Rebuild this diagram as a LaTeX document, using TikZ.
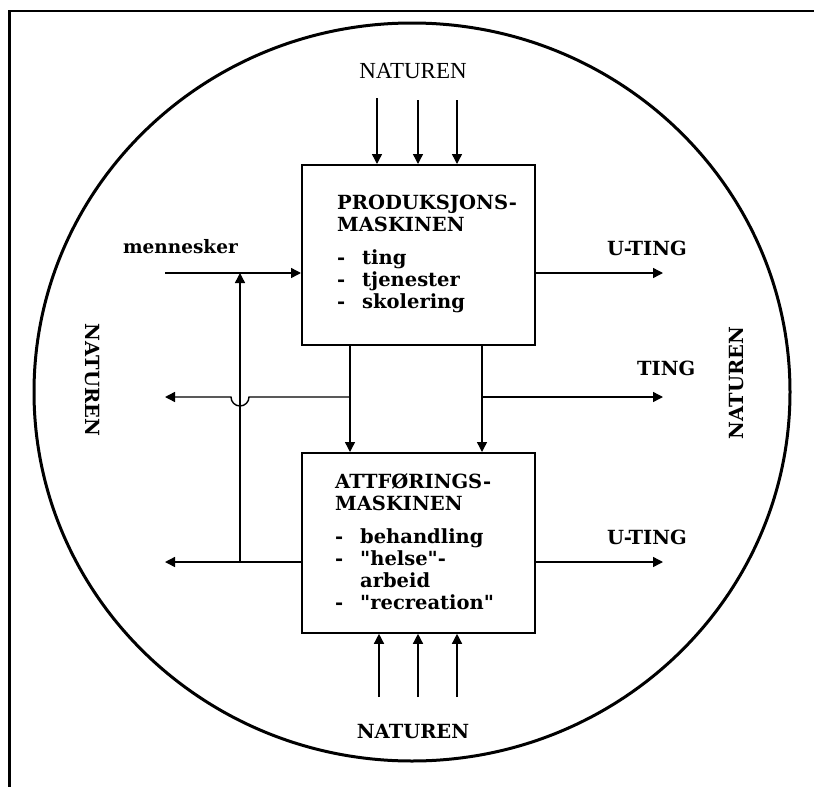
\documentclass[tikz,border=0pt]{standalone}
\usepackage{fontspec}
\setmainfont{DejaVu Serif}[Ligatures=TeXOff]
\newfontfamily\toplabelfont{Liberation Serif}
\usetikzlibrary{arrows.meta,positioning}
\newcommand{\itemdash}{\makebox[25pt][l]{-}}

\begin{document}
\begin{tikzpicture}[x=1pt,y=-1pt,>={Triangle[length=10pt,width=10pt]},
  machine/.style={draw,line width=1.8pt,minimum width=233pt,minimum height=180pt,anchor=north west,inner sep=0pt},
  boxtext/.style={anchor=north west,align=left,inner sep=0pt,font=\bfseries\fontsize{19.5}{22}\selectfont},
  tag/.style={inner sep=0pt,font=\bfseries\fontsize{19.5}{22}\selectfont},
  flow/.style={->,line width=1.4pt}]
  \useasboundingbox (0,0) rectangle (814,787);
  \draw[line width=2.5pt] (9.5,787) -- (9.5,11) -- (814,11);
  \draw[line width=3pt] (412,392) ellipse [x radius=378,y radius=369];

  \node (P0) [machine] at (301,164) {};
  \node (A0) [machine] at (301,452) {};
  \node (P1) [boxtext] at ([xshift=36pt,yshift=-31pt]P0.north west)
    {PRODUKSJONS-\\MASKINEN\\[11pt]\itemdash ting\\\itemdash tjenester\\\itemdash skolering};
  \node (A1) [boxtext] at ([xshift=34pt,yshift=-21pt]A0.north west)
    {ATTFØRINGS-\\MASKINEN\\[11pt]\itemdash behandling\\\itemdash "helse"-\\\hspace*{25pt}arbeid\\\itemdash "recreation"};

  \node (NT) [inner sep=0pt,font=\toplabelfont\fontsize{23}{25}\selectfont,anchor=base] at (413,78) {NATUREN};
  \node (NB) [tag,anchor=base] at (413,738) {NATUREN};
  \node (NW) [tag,rotate=-90] at (92,380) {NATUREN};
  \node (NE) [tag,rotate=90] at (737,383) {NATUREN};
  \node (MEN) [tag,font=\bfseries\fontsize{18.5}{21}\selectfont,anchor=base east] at (238,253) {mennesker};
  \node (U1) [tag,anchor=base west] at (607,255) {U-TING};
  \node (T1) [tag,anchor=base west] at (637,375) {TING};
  \node (U2) [tag,anchor=base west] at (607,544) {U-TING};

  \coordinate (n1) at (377,98);
  \coordinate (n2) at (418,100);
  \coordinate (n3) at (457,100);
  \coordinate (s1) at (379,697);
  \coordinate (s2) at (418,697);
  \coordinate (s3) at (457,697);
  \coordinate (inL) at (165,273);
  \coordinate (outR1) at (663,273);
  \coordinate (vl) at (350,397);
  \coordinate (vr) at (482,397);
  \coordinate (hop) at (240,397);
  \coordinate (tingL) at (165,397);
  \coordinate (tingR) at (663,397);
  \coordinate (outL2) at (165,562);
  \coordinate (outR2) at (663,562);

  \foreach \i in {1,2,3} {
    \draw[flow] (n\i) -- (n\i |- P0.north);
    \draw[flow] (s\i) -- (s\i |- A0.south);
  }
  \draw[flow] (inL) -- (inL -| P0.west);
  \draw[flow] (P0.east |- outR1) -- (outR1);
  \draw[flow] (vl |- P0.south) -- (vl |- A0.north);
  \draw[flow] (vr |- P0.south) -- (vr |- A0.north);
  \draw[flow] (vr) -- (tingR);
  \draw[flow] (vl) -- ([xshift=9pt]hop) arc[start angle=0,end angle=-180,radius=9pt] -- (tingL);
  \draw[flow] (A0.west |- outL2) -- (outL2);
  \draw[flow] (A0.east |- outR2) -- (outR2);
  \draw[flow] (hop |- outL2) -- (hop |- inL);
\end{tikzpicture}
\end{document}
